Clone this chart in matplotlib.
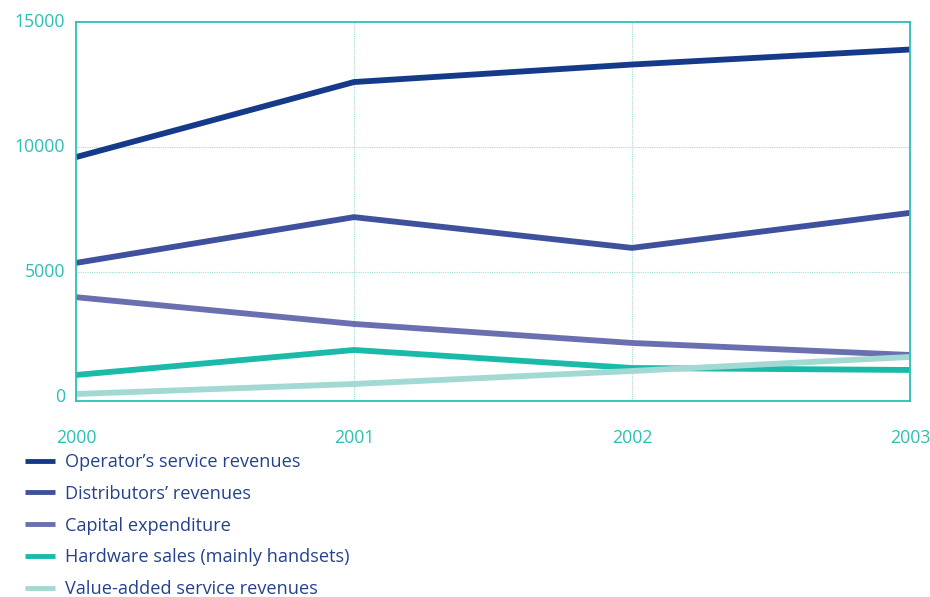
import matplotlib
matplotlib.use("Agg")
import matplotlib.pyplot as plt

years = [2000, 2001, 2002, 2003]
year_labels = ["2000", "2001", "2002", "2003"]
operator = [9600, 12600, 13300, 13900]
distributors = [5370, 7200, 5970, 7370]
capex = [4000, 2930, 2170, 1690]
hardware = [890, 1890, 1170, 1090]
vas = [130, 530, 1050, 1610]
series_names = ["Operator\u2019s service revenues", "Distributors\u2019 revenues",
                "Capital expenditure", "Hardware sales (mainly handsets)",
                "Value-added service revenues"]
y_ticks = [0, 5000, 10000, 15000]

colors = ["#163A8A", "#3F519C", "#6A6FAF", "#1ABAA8", "#A3D9D3"]
teal = "#2BC0B4"
text_blue = "#24418F"

plt.rcParams['font.family'] = ['Open Sans', 'DejaVu Sans']

fig = plt.figure(figsize=(9.3, 5.97), dpi=100)
ax = fig.add_axes([76/930, 1-401/597, (910-76)/930, (401-22)/597])

data = [operator, distributors, capex, hardware, vas]
handles = []
for vals, c, name in zip(data, colors, series_names):
    h, = ax.plot(years, vals, color=c, lw=4.2, solid_capstyle='butt', label=name)
    handles.append(h)

ax.set_xlim(2000, 2003)
ax.set_ylim(-150, 15000)
ax.set_xticks(years)
ax.set_xticklabels(year_labels)
ax.set_yticks(y_ticks)
ax.tick_params(axis='both', length=0, colors=teal, labelsize=12.7)
ax.tick_params(axis='x', pad=20)
ax.tick_params(axis='y', pad=8)
for lab in ax.get_xticklabels():
    lab.set_color(teal)
for lab in ax.get_yticklabels():
    lab.set_color(teal)
    lab.set_verticalalignment('center')
for s in ax.spines.values():
    s.set_color(teal)
    s.set_linewidth(1.3)
for x in years[1:-1]:
    ax.axvline(x, color="#9FDCD6", lw=0.8, ls=(0, (1, 1)), zorder=0)
for y in y_ticks[1:-1]:
    ax.axhline(y, color="#9FDCD6", lw=0.8, ls=(0, (1, 1)), zorder=0)

leg = fig.legend(handles=handles, loc='upper left', bbox_to_anchor=(25/930, 1-453/597),
                 frameon=False, fontsize=13.1, handlelength=1.66, handletextpad=0.55,
                 labelspacing=0.76, borderaxespad=0, borderpad=0)
for t in leg.get_texts():
    t.set_color(text_blue)
for l in leg.get_lines():
    l.set_linewidth(3.5)

fig.savefig("out.png", dpi=100)
